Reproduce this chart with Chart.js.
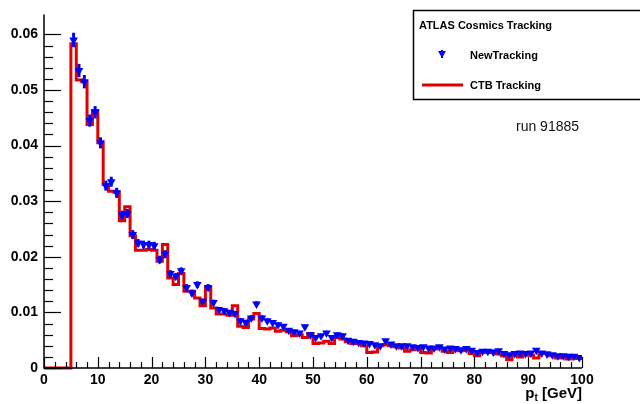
<!DOCTYPE html>
<html><head><meta charset="utf-8">
<script src="https://cdn.jsdelivr.net/npm/chart.js@4/dist/chart.umd.min.js"></script>
<style>html,body{margin:0;padding:0;background:#fff;}#wrap{width:640px;height:404px;position:relative;}</style>
</head><body><div id="wrap"><canvas id="c" width="640" height="404"></canvas></div>
<script>
// Histogram binning (1 GeV bins from 0 to 100)
const xMin = 0;
const xMax = 100;
const binWidth = 1;
const newFirstBin = 5;

// CTB Tracking histogram contents, bins 0..99
const ctbValues = [
  0, 0, 0, 0, 0, 0.0583, 0.0518, 0.0515, 0.0438, 0.0463,
  0.0405, 0.0330, 0.0318, 0.0316, 0.0265, 0.0290, 0.0238, 0.0212, 0.0212, 0.0213,
  0.0212, 0.0192, 0.0222, 0.0162, 0.0150, 0.0170, 0.0138, 0.0138, 0.0126, 0.0112,
  0.0145, 0.0108, 0.0097, 0.0097, 0.0095, 0.0112, 0.0075, 0.0073, 0.0088, 0.0098,
  0.0071, 0.0070, 0.0072, 0.0066, 0.0068, 0.0065, 0.0058, 0.0060, 0.0055, 0.0062,
  0.0044, 0.0045, 0.0048, 0.0044, 0.0055, 0.0052, 0.0047, 0.0044, 0.0045, 0.0040,
  0.0028, 0.0029, 0.0040, 0.0042, 0.0040, 0.0038, 0.0036, 0.0030, 0.0033, 0.0035,
  0.0028, 0.0027, 0.0034, 0.0036, 0.0030, 0.0028, 0.0033, 0.0031, 0.0034, 0.0026,
  0.0022, 0.0030, 0.0028, 0.0030, 0.0025, 0.0022, 0.0015, 0.0024, 0.0020, 0.0024,
  0.0023, 0.0018, 0.0026, 0.0027, 0.0022, 0.0018, 0.0020, 0.0016, 0.0019, 0.0017
];

// NewTracking points, bins 5..99
const newValues = [
  0.0590, 0.0535, 0.0515, 0.0445, 0.0460,
  0.0405, 0.0328, 0.0335, 0.0315, 0.0275, 0.0278, 0.0240, 0.0225, 0.0222, 0.0222,
  0.0220, 0.0195, 0.0205, 0.0170, 0.0165, 0.0175, 0.0145, 0.0135, 0.0150, 0.0120,
  0.0145, 0.0118, 0.0105, 0.0103, 0.0100, 0.0098, 0.0085, 0.0082, 0.0090, 0.0115,
  0.0090, 0.0085, 0.0082, 0.0078, 0.0075, 0.0068, 0.0065, 0.0063, 0.0074, 0.0060,
  0.0055, 0.0058, 0.0063, 0.0055, 0.0060, 0.0058, 0.0050, 0.0048, 0.0046, 0.0045,
  0.0044, 0.0042, 0.0040, 0.0049, 0.0043, 0.0040, 0.0040, 0.0040, 0.0038, 0.0037,
  0.0038, 0.0036, 0.0036, 0.0038, 0.0034, 0.0036, 0.0035, 0.0033, 0.0035, 0.0032,
  0.0028, 0.0030, 0.0030, 0.0029, 0.0031, 0.0026, 0.0024, 0.0026, 0.0027, 0.0026,
  0.0027, 0.0032, 0.0027, 0.0025, 0.0024, 0.0022, 0.0022, 0.0021, 0.0021, 0.0019
];

// NewTracking statistical errors, bins 5..99
const newErrors = [
  0.0013, 0.0012, 0.0012, 0.0011, 0.0011,
  0.0010, 0.0009, 0.0009, 0.0009, 0.0008, 0.0008, 0.0008, 0.0007, 0.0007, 0.0007,
  0.0007, 0.0007, 0.0007, 0.0006, 0.0006, 0.0006, 0.0006, 0.0006, 0.0006, 0.0005,
  0.0006, 0.0005, 0.0005, 0.0005, 0.0005, 0.0005, 0.0005, 0.0005, 0.0005, 0.0005,
  0.0005, 0.0004, 0.0004, 0.0004, 0.0004, 0.0004, 0.0004, 0.0004, 0.0004, 0.0004,
  0.0004, 0.0004, 0.0004, 0.0004, 0.0004, 0.0004, 0.0003, 0.0003, 0.0003, 0.0003,
  0.0003, 0.0003, 0.0003, 0.0003, 0.0003, 0.0003, 0.0003, 0.0003, 0.0003, 0.0003,
  0.0003, 0.0003, 0.0003, 0.0003, 0.0003, 0.0003, 0.0003, 0.0003, 0.0003, 0.0003,
  0.0003, 0.0003, 0.0003, 0.0003, 0.0003, 0.0003, 0.0003, 0.0003, 0.0003, 0.0003,
  0.0003, 0.0003, 0.0003, 0.0003, 0.0003, 0.0002, 0.0002, 0.0002, 0.0002, 0.0002
];

// Axis settings
const yMax = 0.0636;
const xMajorStep = 10;
const xMinorStep = 2;
const yMajorStep = 0.01;
const yMinorStep = 0.002;

const legendTitle = 'ATLAS Cosmics Tracking';
const newLabel = 'NewTracking';
const ctbLabel = 'CTB Tracking';
const runLabel = 'run 91885';

const FONT = "'Liberation Sans', Arial, Helvetica, sans-serif";

const redData = ctbValues.map((v, i) => ({x: xMin + i * binWidth, y: v}));
redData.push({x: xMax, y: ctbValues[ctbValues.length - 1]});
const blueData = newValues.map((v, i) => ({x: newFirstBin + i * binWidth + binWidth / 2, y: v, e: newErrors[i]}));

function isMult(v, step) { const r = v / step; return Math.abs(r - Math.round(r)) < 1e-6; }

const decor = {
  id: 'decor',
  afterDatasetsDraw(chart) {
    const {ctx, scales: {x, y}} = chart;
    ctx.save();
    ctx.strokeStyle = '#0000ff';
    ctx.lineWidth = 3;
    blueData.forEach(p => {
      const px = x.getPixelForValue(p.x);
      ctx.beginPath();
      ctx.moveTo(px, y.getPixelForValue(p.y - p.e));
      ctx.lineTo(px, y.getPixelForValue(p.y + p.e));
      ctx.stroke();
    });
    ctx.restore();
  },
  afterDraw(chart) {
    const {ctx, chartArea: a, scales: {x, y}} = chart;
    ctx.save();
    ctx.strokeStyle = '#000';
    ctx.lineWidth = 1.5;
    // axis lines
    ctx.beginPath();
    ctx.moveTo(a.left, a.top); ctx.lineTo(a.left, a.bottom); ctx.lineTo(a.right, a.bottom);
    ctx.stroke();
    // x ticks
    ctx.lineWidth = 1.2;
    x.ticks.forEach(t => {
      if (!isMult(t.value, xMinorStep)) return;
      const px = Math.round(x.getPixelForValue(t.value)) + 0.5;
      const len = isMult(t.value, xMajorStep) ? 11 : 6;
      ctx.beginPath(); ctx.moveTo(px, a.bottom); ctx.lineTo(px, a.bottom - len); ctx.stroke();
    });
    y.ticks.forEach(t => {
      if (!isMult(t.value, yMinorStep)) return;
      const py = Math.round(y.getPixelForValue(t.value)) + 0.5;
      const len = isMult(t.value, yMajorStep) ? 17 : 9;
      ctx.beginPath(); ctx.moveTo(a.left, py); ctx.lineTo(a.left + len, py); ctx.stroke();
    });
    // x axis title p_t [GeV]
    ctx.fillStyle = '#000';
    ctx.textBaseline = 'alphabetic';
    const big = 'bold 15px ' + FONT, small = 'bold 10px ' + FONT;
    ctx.font = big; const wp = ctx.measureText('p').width; const wg = ctx.measureText(' [GeV]').width;
    ctx.font = small; const wt = ctx.measureText('t').width;
    let xs = a.right - (wp + wt + wg);
    const by = 398;
    ctx.font = big; ctx.fillText('p', xs, by); xs += wp;
    ctx.font = small; ctx.fillText('t', xs, by + 3); xs += wt;
    ctx.font = big; ctx.fillText(' [GeV]', xs, by);
    // legend box
    ctx.strokeStyle = '#000'; ctx.lineWidth = 1.5;
    ctx.fillStyle = '#fff';
    ctx.fillRect(413, 10, 260, 90);
    ctx.strokeRect(413.5, 10.5, 260, 89);
    ctx.fillStyle = '#000';
    ctx.font = 'bold 11px ' + FONT;
    ctx.textBaseline = 'middle';
    ctx.fillText(legendTitle, 419, 26);
    ctx.fillText(newLabel, 470, 56);
    ctx.fillText(ctbLabel, 470, 86);
    // marker sample
    ctx.fillStyle = '#0000ff';
    ctx.beginPath(); ctx.moveTo(438, 51); ctx.lineTo(446, 51); ctx.lineTo(442, 58); ctx.closePath(); ctx.fill();
    ctx.strokeStyle = '#0000ff'; ctx.lineWidth = 2;
    ctx.beginPath(); ctx.moveTo(442, 50); ctx.lineTo(442, 58); ctx.stroke();
    // line sample
    ctx.strokeStyle = '#e00000'; ctx.lineWidth = 3;
    ctx.beginPath(); ctx.moveTo(422, 85); ctx.lineTo(463, 85); ctx.stroke();
    // run label
    ctx.fillStyle = '#111';
    ctx.font = '14px ' + FONT;
    ctx.fillText(runLabel, 516, 127);
    ctx.restore();
  }
};

new Chart(document.getElementById('c'), {
  type: 'scatter',
  data: {
    datasets: [
      {label: newLabel, data: blueData, showLine: false, pointStyle: 'triangle', rotation: 180,
       pointRadius: 5, pointHoverRadius: 5, backgroundColor: '#0000ff', borderColor: '#0000ff', borderWidth: 0},
      {label: ctbLabel, type: 'line', data: redData, stepped: 'before', borderColor: '#e00000',
       borderWidth: 3, pointRadius: 0, fill: false, clip: 4}
    ]
  },
  options: {
    responsive: false,
    animation: false,
    devicePixelRatio: 1,
    layout: {padding: {top: 10, right: 58, left: 0, bottom: 0}},
    plugins: {legend: {display: false}, tooltip: {enabled: false}},
    scales: {
      x: {type: 'linear', min: xMin, max: xMax,
          grid: {display: false, drawTicks: false}, border: {display: false},
          ticks: {stepSize: xMinorStep, autoSkip: false, maxRotation: 0, padding: 4,
                  color: '#000', font: {family: FONT, size: 14, weight: 'bold'},
                  callback: v => isMult(v, xMajorStep) ? String(Math.round(v)) : ''},
          afterFit(s) { s.height = 36; }},
      y: {type: 'linear', min: 0, max: yMax,
          grid: {display: false, drawTicks: false}, border: {display: false},
          ticks: {stepSize: yMinorStep, autoSkip: false, padding: 6,
                  color: '#000', font: {family: FONT, size: 14, weight: 'bold'},
                  callback: v => {
                    if (!isMult(v, yMajorStep)) return '';
                    const k = Math.round(v / yMajorStep);
                    return k === 0 ? '0' : (k * yMajorStep).toFixed(2);
                  }},
          afterFit(s) { s.width = 44; }}
    }
  },
  plugins: [decor]
});
</script>
</body></html>
